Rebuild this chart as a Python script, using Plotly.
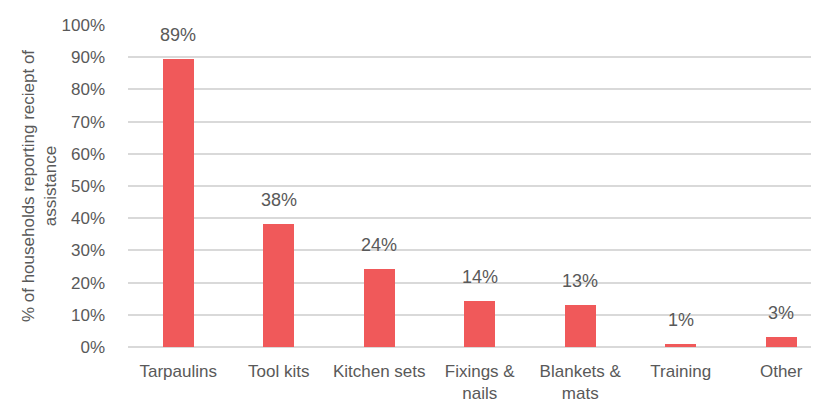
import plotly.graph_objects as go

categories = ["Tarpaulins", "Tool kits", "Kitchen sets", "Fixings &<br>nails", "Blankets &<br>mats", "Training", "Other"]
values = [89.3, 38.2, 24.3, 14.3, 13.0, 0.9, 3.2]
labels = ["89%", "38%", "24%", "14%", "13%", "1%", "3%"]
yticks = list(range(0, 101, 10))
yticklabels = [f"{v}%" for v in yticks]

FONT = "Liberation Sans, Arial, sans-serif"
TXT = "#595959"

fig = go.Figure()
fig.add_trace(go.Bar(
    x=list(range(len(categories))), y=values,
    width=0.31, marker=dict(color="#F0595A", line=dict(width=0)),
    hoverinfo="skip",
))
for i, (v, t) in enumerate(zip(values, labels)):
    fig.add_annotation(x=i, y=v, text=t, showarrow=False, yanchor="bottom",
                       yshift=12, font=dict(family=FONT, size=18, color=TXT))

fig.update_layout(
    width=819, height=405,
    margin=dict(l=120, r=9, t=17, b=66, autoexpand=False),
    paper_bgcolor="white", plot_bgcolor="white",
    showlegend=False,
    font=dict(family=FONT, size=17, color=TXT),
    bargap=0,
)
fig.update_xaxes(
    range=[-0.5, 6.366], automargin=False,
    tickmode="array", tickvals=list(range(len(categories))), ticktext=categories,
    showgrid=False, zeroline=False,
    showline=False, ticks="", ticklabelstandoff=12,
    tickfont=dict(family=FONT, size=17, color=TXT),
)
fig.update_yaxes(
    range=[0, 100], automargin=False,
    tickmode="array", tickvals=yticks, ticktext=yticklabels,
    showgrid=True, gridcolor="#D9D9D9", gridwidth=1.5,
    zeroline=True, zerolinecolor="#D9D9D9", zerolinewidth=2,
    showline=False, ticks="", ticklabelstandoff=22,
    tickfont=dict(family=FONT, size=17, color=TXT),
    title=dict(text="% of households reporting reciept of<br>assistance",
               font=dict(family=FONT, size=17, color=TXT), standoff=0),
)
fig.write_html("out.html")
